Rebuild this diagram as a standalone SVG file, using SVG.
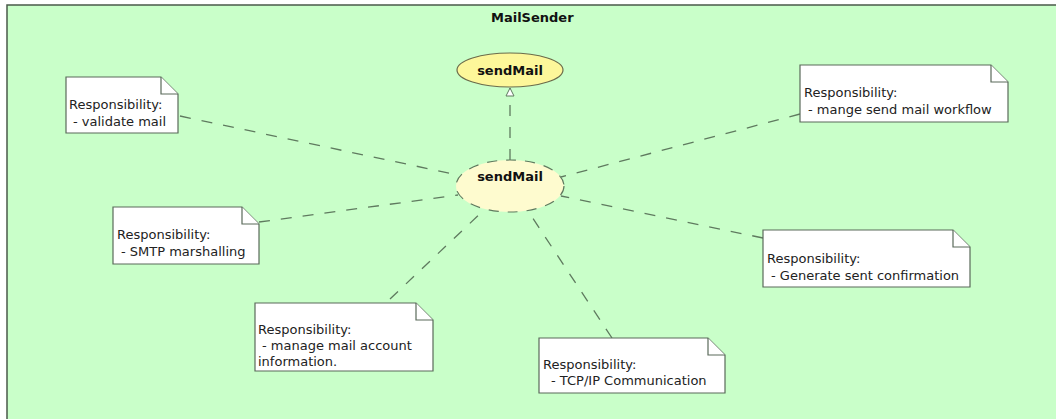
<svg xmlns="http://www.w3.org/2000/svg" width="1056" height="419" viewBox="0 0 1056 419">
  <style>
    .frame { fill: #c9ffc9; stroke: #4a5a4a; stroke-width: 1.5; }
    .title { font-family: "DejaVu Sans", sans-serif; font-size: 13px; font-weight: bold; fill: #111; }
    .uc { fill: #fdf79a; stroke: #6b6b4a; stroke-width: 1.2; }
    .ucr { fill: #fefbcf; stroke: #5f7a5f; stroke-width: 1.2; stroke-dasharray: 10 9; }
    .uct { font-family: "DejaVu Sans", sans-serif; font-size: 13px; font-weight: bold; fill: #111; text-anchor: middle; }
    .note { fill: #ffffff; stroke: #5a6a5a; stroke-width: 1.2; }
    .fold { fill: #ffffff; stroke: #5a6a5a; stroke-width: 1.2; stroke-linejoin: miter; }
    .nt { font-family: "DejaVu Sans", sans-serif; font-size: 13px; fill: #222; }
    .dash { fill: none; stroke: #5f7a5f; stroke-width: 1.3; stroke-dasharray: 11 11; }
  </style>
  <defs>
    <!-- hollow triangle head for the realization link -->
    <marker id="realize" markerWidth="10" markerHeight="10" refX="9" refY="5" orient="auto" markerUnits="userSpaceOnUse" viewBox="0 0 10 10">
      <path d="M1,1 L9,5 L1,9 Z" fill="#ffffff" stroke="#5f7a5f" stroke-width="1"/>
    </marker>
  </defs>

  <!-- package frame -->
  <g id="MailSender">
    <rect class="frame" x="7" y="5" width="1060" height="430"/>
    <text class="title" x="491" y="22">MailSender</text>
  </g>

  <!-- connectors -->
  <g id="connectors">
    <line class="dash" x1="510" y1="160" x2="510" y2="88" marker-end="url(#realize)"/>
    <line class="dash" x1="180" y1="116" x2="458" y2="175"/>
    <line class="dash" x1="800" y1="114" x2="561" y2="177"/>
    <line class="dash" x1="259" y1="222" x2="458" y2="195"/>
    <line class="dash" x1="763" y1="238" x2="561" y2="196"/>
    <line class="dash" x1="390" y1="299" x2="484" y2="210"/>
    <line class="dash" x1="612" y1="338" x2="528" y2="211"/>
  </g>

  <!-- use cases -->
  <g id="uc-sendMail">
    <ellipse class="uc" cx="510" cy="70" rx="53" ry="17"/>
    <text class="uct" x="510" y="75">sendMail</text>
  </g>
  <g id="uc-sendMail-realization">
    <ellipse class="ucr" cx="510" cy="186" rx="54" ry="26"/>
    <text class="uct" x="510" y="181">sendMail</text>
  </g>

  <!-- responsibility notes -->
  <g id="note-validate">
    <path class="note" d="M66,77 H161 L178,94 V133 H66 Z"/>
    <path class="fold" d="M161,77 V94 H178"/>
    <text class="nt" x="69" y="109">Responsibility:</text>
    <text class="nt" x="73" y="126">- validate mail</text>
  </g>
  <g id="note-workflow">
    <path class="note" d="M800,65 H991 L1008,82 V122 H800 Z"/>
    <path class="fold" d="M991,65 V82 H1008"/>
    <text class="nt" x="804" y="97">Responsibility:</text>
    <text class="nt" x="808" y="114">- mange send mail workflow</text>
  </g>
  <g id="note-smtp">
    <path class="note" d="M113,207 H242 L259,224 V264 H113 Z"/>
    <path class="fold" d="M242,207 V224 H259"/>
    <text class="nt" x="117" y="239">Responsibility:</text>
    <text class="nt" x="121" y="256">- SMTP marshalling</text>
  </g>
  <g id="note-confirmation">
    <path class="note" d="M763,230 H953 L970,247 V287 H763 Z"/>
    <path class="fold" d="M953,230 V247 H970"/>
    <text class="nt" x="767" y="263">Responsibility:</text>
    <text class="nt" x="771" y="280">- Generate sent confirmation</text>
  </g>
  <g id="note-account">
    <path class="note" d="M255,303 H416 L433,320 V371 H255 Z"/>
    <path class="fold" d="M416,303 V320 H433"/>
    <text class="nt" x="258" y="334">Responsibility:</text>
    <text class="nt" x="262" y="350">- manage mail account</text>
    <text class="nt" x="258" y="366">information.</text>
  </g>
  <g id="note-tcpip">
    <path class="note" d="M539,338 H708 L725,355 V393 H539 Z"/>
    <path class="fold" d="M708,338 V355 H725"/>
    <text class="nt" x="543" y="369">Responsibility:</text>
    <text class="nt" x="551" y="385">- TCP/IP Communication</text>
  </g>
</svg>
